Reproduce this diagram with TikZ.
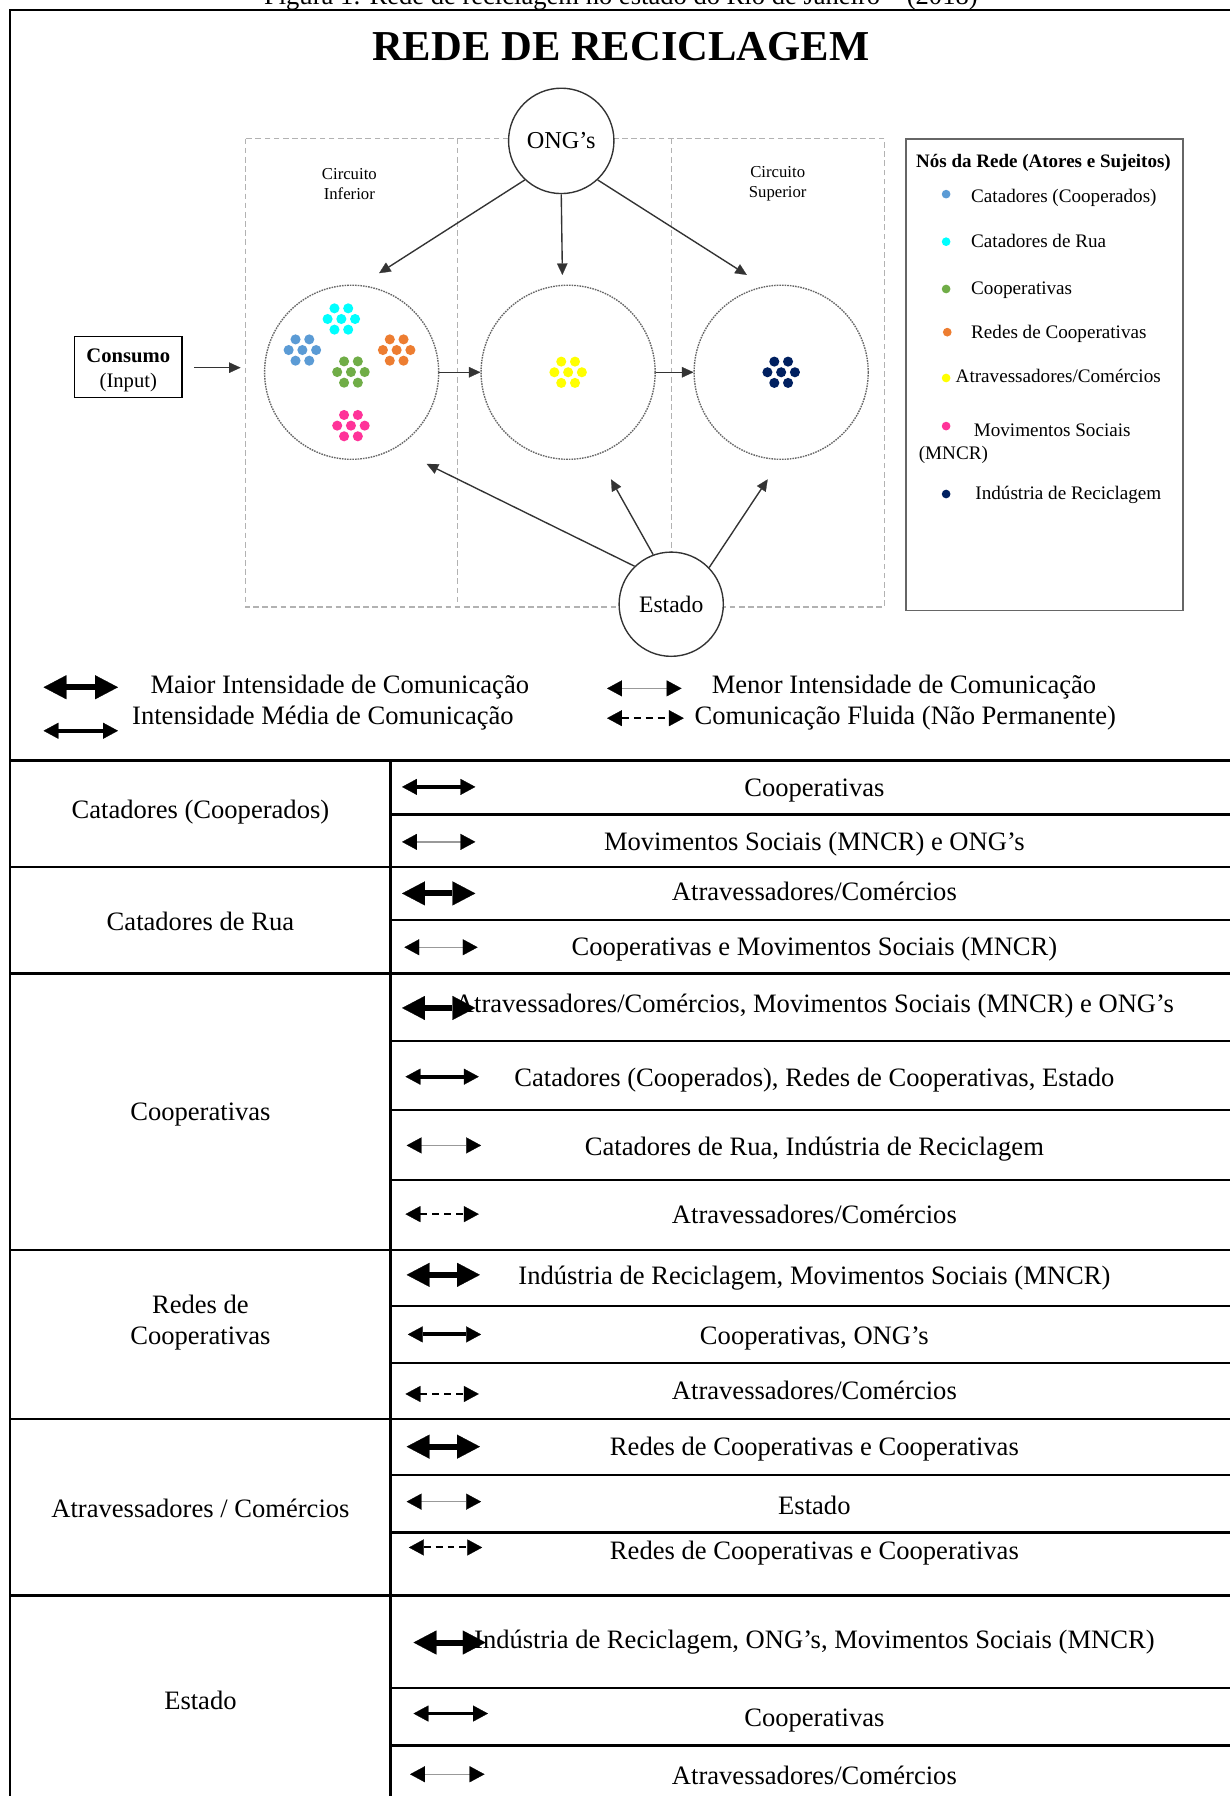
\documentclass[tikz,border=0pt]{standalone}
\usepackage{fontspec}
\setmainfont{Liberation Serif}
\usetikzlibrary{arrows.meta}
\definecolor{cBlue}{HTML}{5B9BD5}
\definecolor{cCyan}{HTML}{00FFFF}
\definecolor{cGreen}{HTML}{70AD47}
\definecolor{cOrange}{HTML}{ED7D31}
\definecolor{cYellow}{HTML}{FFFF00}
\definecolor{cPink}{HTML}{FF3399}
\definecolor{cNavy}{HTML}{002060}
\newcommand{\dotflower}[3]{%
  \foreach \dx/\dy in {-6/-9.3,6/-9.3,-12/0,0/0,12/0,-6/9.3,6/9.3}{\fill[#3] (#1+\dx,#2+\dy) circle[radius=2.2pt];}}
% id, style, x1, x2, arrow y, text y, text
\newcommand{\relrow}[7]{%
  \coordinate (#1a) at (#3,#5);
  \coordinate (#1b) at (#4,#5);
  \node[txt] (#1t) at (711,#6) {#7};
  \draw[#2] (#1a) -- (#1b);}
\tikzset{
  TipL/.tip={Triangle[length=10pt,width=10.5pt,line width=0.1pt]},
  TipS/.tip={Triangle[length=6.5pt,width=7pt,line width=0.1pt]},
  TipK/.tip={Triangle[length=6.5pt,width=7pt,line width=0.1pt,color=black]},
  TipD/.tip={Triangle[length=5pt,width=4.6pt,line width=0.1pt]},
  maior/.style={line width=2.6pt, TipL-TipL},
  media/.style={line width=1.7pt, TipS-TipS},
  menor/.style={line width=0.6pt, draw=black!40, TipK-TipK},
  fluida/.style={line width=0.9pt, dash pattern=on 3pt off 2.2pt, TipS-TipS},
  diag/.style={draw=black!80, line width=0.6pt, -TipD},
  txt/.style={inner sep=0pt, yshift=-1.5pt, font=\fontsize{11.6}{14}\selectfont, text height=0.68em, text depth=0.22em},
  legtxt/.style={inner sep=0pt, yshift=-0.4pt, anchor=west, font=\fontsize{8.35}{10}\selectfont, text height=0.68em, text depth=0.22em},
  legdot/.style={circle, inner sep=0pt, minimum size=3.8pt},
  actor/.style={circle, fill=white, draw=black!80, line width=0.6pt, inner sep=0pt},
  bigcirc/.style={circle, minimum size=76pt, inner sep=0pt, draw=black!60, line width=0.6pt, dash pattern=on 0.7pt off 0.45pt},
  zone/.style={draw=black!30, line width=0.5pt, dash pattern=on 2.5pt off 1.5pt},
  tline/.style={line width=1pt}
}
\begin{document}
\begin{tikzpicture}[x=0.5pt,y=-0.5pt]
\useasboundingbox (0,0) rectangle (1073,1568);
\fill[white] (0,0) rectangle (1073,1568);

% cut caption (cut by the top edge, as in the reference)
\node[anchor=base, inner sep=0pt, font=\fontsize{11.6}{14}\selectfont] (caption) at (542,3.5) {Figura 1: Rede de reciclagem no estado do Rio de Janeiro – (2018)};

% frame
\draw[line width=1pt] (9,1620) -- (9,9) -- (1120,9);

% title
\node[anchor=base, inner sep=0pt, font=\bfseries\fontsize{18.6}{22}\selectfont] (title) at (542,52.5) {REDE DE RECICLAGEM};

% zones
\draw[zone] (214,121) rectangle (772,530);
\draw[zone] (399.6,121) -- (399.6,530);
\draw[zone] (586,121) -- (586,530);
\node[align=center, inner sep=0pt, font=\fontsize{7.3}{8.7}\selectfont] (cinf) at (305,160.5) {Circuito\\Inferior};
\node[align=center, inner sep=0pt, font=\fontsize{7.3}{8.7}\selectfont] (csup) at (679,160.5) {Circuito\\Superior};

% big circles
\node[bigcirc] (cL) at (307,325) {};
\node[bigcirc] (cM) at (496,325) {};
\node[bigcirc] (cR) at (682,325) {};
\dotflower{298}{278.5}{cCyan}
\dotflower{264}{305.6}{cBlue}
\dotflower{346.3}{305.6}{cOrange}
\dotflower{306.4}{324.8}{cGreen}
\dotflower{306.4}{371.6}{cPink}
\dotflower{496}{325}{cYellow}
\dotflower{682}{325}{cNavy}
\draw[diag] (cL) -- (cM);
\draw[diag] (cM) -- (cR);

% ONG's and Estado
\node[actor, minimum size=46pt, font=\fontsize{10.6}{12}\selectfont] (ong) at (490,123) {ONG’s};
\node[actor, minimum size=45.5pt, font=\fontsize{10.3}{12}\selectfont] (estado) at (586,527.5) {Estado};
\coordinate (ongL) at (331,238.5);
\coordinate (ongM) at (491,240);
\coordinate (ongR) at (652,240);
\draw[diag] (ong.227) -- (ongL);
\draw[diag] (ong.270) -- (ongM);
\draw[diag] (ong.313) -- (ongR);
\coordinate (estL) at (372.5,405);
\coordinate (estM) at (533.4,418.5);
\coordinate (estR) at (670.2,418.5);
\draw[diag] (estado.134) -- (estL);
\draw[diag] (estado.110) -- (estM);
\draw[diag] (estado.44) -- (estR);

% consumo
\node[draw, line width=0.6pt, minimum width=47pt, minimum height=26.5pt, inner sep=0pt] (consumo) at (112,320.5) {};
\node[inner sep=0pt, align=center, font=\fontsize{9}{11}\selectfont] (consumoT) at (112,323.5) {\textbf{Consumo}\\(Input)};
\coordinate (consIn) at (210,321);
\draw[diag, shorten <=5pt] (consumo.east |- consIn) -- (consIn);

% legend box
\node[draw=black!60, line width=0.8pt, minimum width=121pt, minimum height=206pt, inner sep=0pt] (legbox) at (912,327) {};
\node[inner sep=0pt, font=\bfseries\fontsize{8.3}{10}\selectfont] (legtitle) at (911,142) {Nós da Rede (Atores e Sujeitos)};
\node[legdot, fill=cBlue] (d1) at (826,169.5) {};
\node[legdot, fill=cCyan] (d2) at (826,211) {};
\node[legdot, fill=cGreen] (d3) at (826,252.3) {};
\node[legdot, fill=cOrange] (d4) at (827,290) {};
\node[legdot, fill=cYellow] (d5) at (826,330) {};
\node[legdot, fill=cPink] (d6) at (826,372) {};
\node[legdot, fill=cNavy] (d7) at (826,431.3) {};
\node[legtxt] (l1) at (847.5,171) {Catadores (Cooperados)};
\node[legtxt] (l2) at (847.5,211) {Catadores de Rua};
\node[legtxt] (l3) at (847.5,252) {Cooperativas};
\node[legtxt] (l4) at (847.5,290) {Redes de Cooperativas};
\node[legtxt] (l5) at (834,328.3) {Atravessadores/Comércios};
\node[legtxt] (l6) at (849.8,375.4) {Movimentos Sociais};
\node[legtxt] (l6b) at (801.8,395.8) {(MNCR)};
\node[legtxt] (l7) at (851.2,430.7) {Indústria de Reciclagem};

% intensity legend
\coordinate (k1a) at (38,600); \coordinate (k1b) at (103,600);
\draw[maior] (k1a) -- (k1b);
\node[txt, anchor=west] (k1t) at (131,598) {Maior Intensidade de Comunicação};
\coordinate (k2a) at (38,638); \coordinate (k2b) at (103,638);
\draw[media] (k2a) -- (k2b);
\node[txt, anchor=west] (k2t) at (115,625) {Intensidade Média de Comunicação};
\coordinate (k3a) at (530,601); \coordinate (k3b) at (595,601);
\draw[menor] (k3a) -- (k3b);
\node[txt, anchor=west] (k3t) at (621,598) {Menor Intensidade de Comunicação};
\coordinate (k4a) at (530,627); \coordinate (k4b) at (597,627);
\draw[fluida] (k4a) -- (k4b);
\node[txt, anchor=west] (k4t) at (606,625) {Comunicação Fluida (Não Permanente)};

% table grid
\foreach \yy in {664,757,850,1091,1239,1393} {\draw[tline] (9,\yy) -- (1120,\yy);}
\foreach \yy in {711,803,909,969,1030,1140,1190,1288,1338,1474,1524} {\draw[tline] (341,\yy) -- (1120,\yy);}
\draw[tline] (341,664) -- (341,1620);

% left labels
\node[txt] (lab1) at (175,707) {Catadores (Cooperados)};
\node[txt] (lab2) at (175,805) {Catadores de Rua};
\node[txt] (lab3) at (175,971) {Cooperativas};
\node[align=center, inner sep=0pt, font=\fontsize{11.6}{13.5}\selectfont] (lab4) at (175,1155) {Redes de\\Cooperativas};
\node[txt] (lab5) at (175,1317) {Atravessadores / Comércios};
\node[txt] (lab6) at (175,1485) {Estado};

% right rows
\relrow{ra}{media}{351}{415}{687}{688}{Cooperativas}
\relrow{rb}{menor}{351}{415}{735}{735}{Movimentos Sociais (MNCR) e ONG’s}
\relrow{rc}{maior}{351}{415}{780}{779}{Atravessadores/Comércios}
\relrow{rd}{menor}{353}{417}{827}{827}{Cooperativas e Movimentos Sociais (MNCR)}
\relrow{re}{maior}{351}{415}{880}{876}{Atravessadores/Comércios, Movimentos Sociais (MNCR) e ONG’s}
\relrow{rf}{media}{354}{418}{940}{941}{Catadores (Cooperados), Redes de Cooperativas, Estado}
\relrow{rg}{menor}{355}{420}{1000}{1001}{Catadores de Rua, Indústria de Reciclagem}
\relrow{rh}{fluida}{354}{418}{1060}{1061}{Atravessadores/Comércios}
\relrow{ri}{maior}{355}{419}{1113}{1114}{Indústria de Reciclagem, Movimentos Sociais (MNCR)}
\relrow{rj}{media}{356}{420}{1165}{1166}{Cooperativas, ONG’s}
\relrow{rk}{fluida}{354}{418}{1217}{1214}{Atravessadores/Comércios}
\relrow{rl}{maior}{355}{419}{1263}{1263}{Redes de Cooperativas e Cooperativas}
\relrow{rm}{menor}{355}{420}{1311}{1315}{Estado}
\relrow{rn}{fluida}{357}{421}{1351}{1354}{Redes de Cooperativas e Cooperativas}
\relrow{ro}{maior}{361}{424}{1434}{1432}{Indústria de Reciclagem, ONG’s, Movimentos Sociais (MNCR)}
\relrow{rp}{media}{361}{426}{1496}{1500}{Cooperativas}
\relrow{rq}{menor}{358}{423}{1549}{1550}{Atravessadores/Comércios}
\end{tikzpicture}
\end{document}
